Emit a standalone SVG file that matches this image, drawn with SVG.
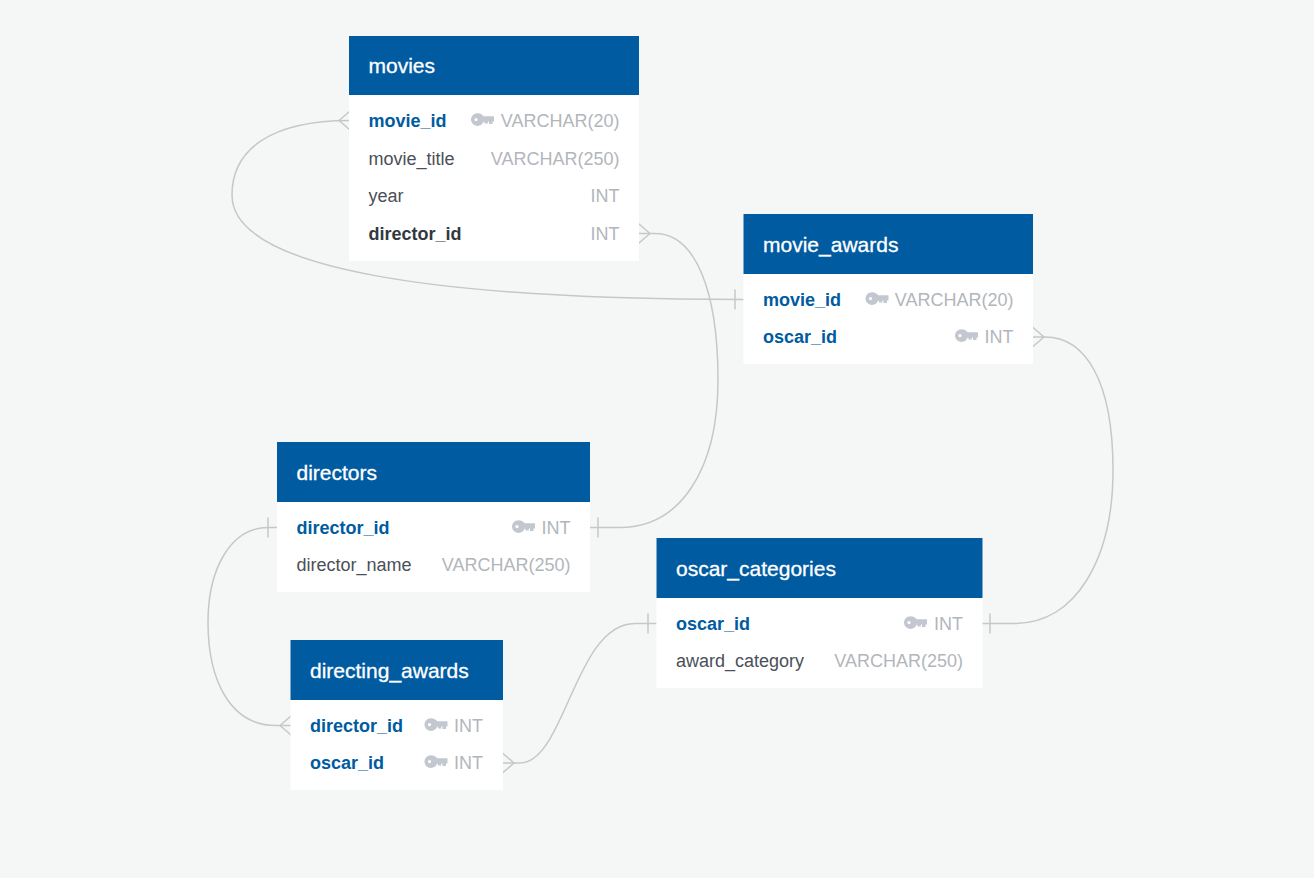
<svg xmlns="http://www.w3.org/2000/svg" width="1314" height="878" viewBox="0 0 1314 878">
<style>
.b{fill:#fff}.h{fill:#005ba1}
text{font-family:"Liberation Sans",Arial,sans-serif;font-size:18px}
.t{fill:#fff;font-size:21px;stroke:#fff;stroke-width:.3}
.pk{fill:#005ba1;font-weight:bold}
.fk{fill:#32383e;font-weight:bold}
.f{fill:#4a5058}
.y{fill:#b2b6bc;text-anchor:end}
.c{fill:none;stroke:#c6c7c7;stroke-width:1.5;stroke-linecap:round}
</style>
<defs>
<symbol id="key" viewBox="0 0 23 14" overflow="visible"><path fill="#c3c7cf" fill-rule="evenodd" d="M6.500 0.300C9.500 0.300 11.800 1.800 12.600 3.300H22.500Q23 3.300 23 3.800V8Q23 8.500 22.500 8.500H21.500V11H18V8.500H16.800V10.500H13.500V8.800H12.600C11.800 11 9.500 12.900 6.500 12.900C2.900 12.900 0 10 0 6.600S2.900 0.300 6.500 0.300ZM5 5A1.600 1.600 0 1 0 5 8.200A1.600 1.600 0 1 0 5 5Z"/></symbol>
</defs>
<rect width="1314" height="878" fill="#f5f7f6"/>
<g id="connectors" class="c">
<path class="c" d="M350 120.500C270 120.500 232 150 232 195C232 270 440 299.500 743 299.500"/>
<path class="c" d="M339 120.500L350 111M339 120.500L350 130"/>
<path class="c" d="M735 290V309"/>
<path class="c" d="M639 233.500H655C695 233.500 718 290 718 380C718 470 680 527.500 620 527.500H590"/>
<path class="c" d="M650 233.500L639 224M650 233.500L639 243"/>
<path class="c" d="M598 518V537"/>
<path class="c" d="M1033 337H1045C1085 337 1113 380 1113 470C1113 560 1075 623.500 1015 623.500H982"/>
<path class="c" d="M1044 337L1033 327.500M1044 337L1033 346.500"/>
<path class="c" d="M990 614V633"/>
<path class="c" d="M277 527.500H268C230 527.500 208 570 208 622C208 680 230 725.500 276 725.500H291"/>
<path class="c" d="M268 518V537"/>
<path class="c" d="M280 725.500L291 716M280 725.500L291 735"/>
<path class="c" d="M503 763H520C565 763 575 623.500 635 623.500H656"/>
<path class="c" d="M514 763L503 753.500M514 763L503 772.500"/>
<path class="c" d="M648 614V633"/>
</g>
<g id="movies">
<rect class="b" x="349" y="36" width="290" height="225"/><rect class="h" x="349" y="36" width="290" height="59"/>
<text class="t" x="368.500" y="73">movies</text>
<text class="pk" x="368.500" y="126.500">movie_id</text><use href="#key" x="471" y="113" width="23" height="14"/><text class="y" x="619.500" y="126.500">VARCHAR(20)</text>
<text class="f" x="368.500" y="164.500">movie_title</text><text class="y" x="619.500" y="164.500">VARCHAR(250)</text>
<text class="f" x="368.500" y="202">year</text><text class="y" x="619.500" y="202">INT</text>
<text class="fk" x="368.500" y="239.500">director_id</text><text class="y" x="619.500" y="239.500">INT</text>
</g>
<g id="movie_awards">
<rect class="b" x="743.500" y="214" width="289.500" height="150"/><rect class="h" x="743.500" y="214" width="289.500" height="60"/>
<text class="t" x="763" y="252">movie_awards</text>
<text class="pk" x="763" y="305.500">movie_id</text><use href="#key" x="865.500" y="292" width="23" height="14"/><text class="y" x="1013.500" y="305.500">VARCHAR(20)</text>
<text class="pk" x="763" y="343">oscar_id</text><use href="#key" x="955" y="329" width="23" height="14"/><text class="y" x="1013.500" y="343">INT</text>
</g>
<g id="directors">
<rect class="b" x="277" y="442" width="313" height="150"/><rect class="h" x="277" y="442" width="313" height="60"/>
<text class="t" x="296.500" y="480">directors</text>
<text class="pk" x="296.500" y="533.500">director_id</text><use href="#key" x="512" y="520" width="23" height="14"/><text class="y" x="570.500" y="533.500">INT</text>
<text class="f" x="296.500" y="571">director_name</text><text class="y" x="570.500" y="571">VARCHAR(250)</text>
</g>
<g id="oscar_categories">
<rect class="b" x="656.500" y="538" width="326" height="150"/><rect class="h" x="656.500" y="538" width="326" height="60"/>
<text class="t" x="676" y="576">oscar_categories</text>
<text class="pk" x="676" y="629.500">oscar_id</text><use href="#key" x="904" y="616" width="23" height="14"/><text class="y" x="963" y="629.500">INT</text>
<text class="f" x="676" y="667">award_category</text><text class="y" x="963" y="667">VARCHAR(250)</text>
</g>
<g id="directing_awards">
<rect class="b" x="290.500" y="640" width="212.500" height="150"/><rect class="h" x="290.500" y="640" width="212.500" height="60"/>
<text class="t" x="310" y="678">directing_awards</text>
<text class="pk" x="310" y="731.500">director_id</text><use href="#key" x="424.500" y="718" width="23" height="14"/><text class="y" x="483" y="731.500">INT</text>
<text class="pk" x="310" y="769">oscar_id</text><use href="#key" x="424.500" y="755" width="23" height="14"/><text class="y" x="483" y="769">INT</text>
</g>
</svg>
